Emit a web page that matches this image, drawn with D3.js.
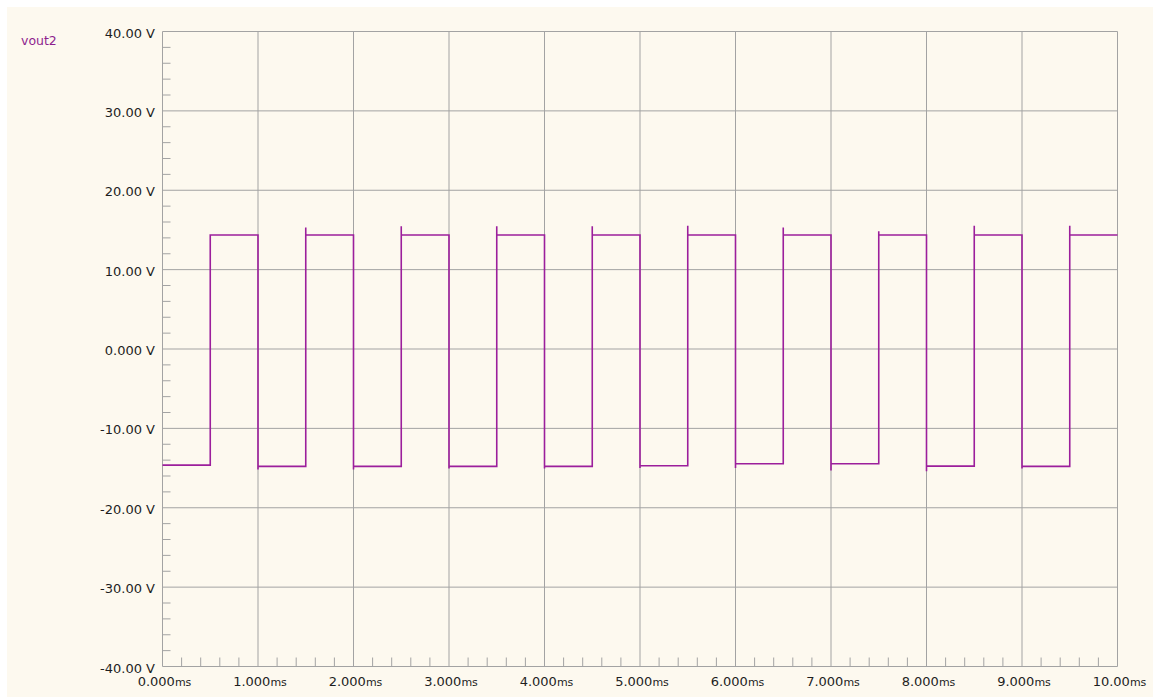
<!DOCTYPE html>
<html>
<head>
<meta charset="utf-8">
<script src="https://cdn.jsdelivr.net/npm/d3@7"></script>
<style>
  html, body { margin: 0; padding: 0; background: #ffffff; }
  svg { display: block; }
</style>
</head>
<body>
<div id="chart"></div>
<script>
// vout2 square wave (ms, V)
const edgeTimes = [0.5, 1.0, 1.5, 2.0, 2.5, 3.0, 3.5, 4.0, 4.5, 5.0,
                   5.5, 6.0, 6.5, 7.0, 7.5, 8.0, 8.5, 9.0, 9.5];
// level of each segment between edges (20 segments, 0..10 ms)
const levels = [-14.63, 14.37, -14.79, 14.37, -14.79, 14.37, -14.79, 14.37, -14.79, 14.37,
                -14.70, 14.37, -14.45, 14.37, -14.45, 14.37, -14.75, 14.37, -14.79, 14.37];
// overshoot peak at each edge (null = none)
const spikes = [null, -15.17, 15.30, -15.17, 15.47, -15.04, 15.47, -15.04, 15.47, -15.00,
                15.53, -15.00, 15.30, -15.30, 14.84, -15.40, 15.53, -15.05, 15.53];
const yTicks = [40, 30, 20, 10, 0, -10, -20, -30, -40];
const yTickLabels = ["40.00 V", "30.00 V", "20.00 V", "10.00 V", "0.000 V",
                     "-10.00 V", "-20.00 V", "-30.00 V", "-40.00 V"];
const xTicks = [0, 1, 2, 3, 4, 5, 6, 7, 8, 9, 10];
const xTickLabels = ["0.000", "1.000", "2.000", "3.000", "4.000", "5.000",
                     "6.000", "7.000", "8.000", "9.000", "10.00"];
const seriesName = "vout2";

const width = 1153, height = 697;
const plotL = 162.5, plotR = 1117.5, plotT = 31.5, plotB = 666.5;

const svg = d3.select("#chart").append("svg")
  .attr("width", width).attr("height", height)
  .style("font-family", "'DejaVu Sans', sans-serif");

svg.append("rect")
  .attr("x", 7).attr("y", 7).attr("width", width - 7).attr("height", height - 7)
  .attr("fill", "#fdf9ef");

const x = d3.scaleLinear().domain([0, 10]).range([plotL, plotR]);
const y = d3.scaleLinear().domain([-40, 40]).range([plotB, plotT]);

const grid = "#a3a3a3";

// gridlines
svg.append("g").selectAll("line").data(xTicks).join("line")
  .attr("x1", d => x(d)).attr("x2", d => x(d))
  .attr("y1", plotT).attr("y2", plotB)
  .attr("stroke", grid).attr("stroke-width", 1);
svg.append("g").selectAll("line").data(yTicks).join("line")
  .attr("x1", plotL).attr("x2", plotR)
  .attr("y1", d => y(d)).attr("y2", d => y(d))
  .attr("stroke", grid).attr("stroke-width", 1);

// minor ticks
const yMinor = d3.range(-40, 40.01, 2).filter(v => v % 10 !== 0);
svg.append("g").selectAll("line").data(yMinor).join("line")
  .attr("x1", plotL).attr("x2", plotL + 8)
  .attr("y1", d => y(d)).attr("y2", d => y(d))
  .attr("stroke", grid);
const xMinor = d3.range(0, 10.001, 0.2).filter(v => Math.abs(v - Math.round(v)) > 1e-6);
svg.append("g").selectAll("line").data(xMinor).join("line")
  .attr("x1", d => x(d)).attr("x2", d => x(d))
  .attr("y1", plotB).attr("y2", plotB - 9)
  .attr("stroke", grid);

// tick labels
svg.append("g").selectAll("text").data(yTicks).join("text")
  .attr("x", 155).attr("y", d => y(d) + 6)
  .attr("text-anchor", "end")
  .attr("font-size", 13).attr("fill", "#1e1e1e")
  .text((d, i) => yTickLabels[i]);

const xl = svg.append("g").selectAll("text").data(xTicks).join("text")
  .attr("x", d => x(d) + 2).attr("y", 686)
  .attr("text-anchor", "middle")
  .attr("font-size", 13).attr("fill", "#1e1e1e");
xl.append("tspan").text((d, i) => xTickLabels[i]);
xl.append("tspan").attr("font-size", 11).text("ms");

// series label
svg.append("text")
  .attr("x", 21).attr("y", 45)
  .attr("font-size", 12.5).attr("fill", "#8e1e8e")
  .text(seriesName);

// build waveform points from edges
const pts = [[0, levels[0]]];
edgeTimes.forEach((t, i) => {
  pts.push([t, levels[i]]);
  if (spikes[i] !== null) pts.push([t, spikes[i]]);
  pts.push([t, levels[i + 1]]);
});
pts.push([10, levels[levels.length - 1]]);

svg.append("path")
  .datum(pts)
  .attr("fill", "none")
  .attr("stroke", "#9c1f9c")
  .attr("stroke-width", 1.6)
  .attr("d", d3.line().x(d => x(d[0])).y(d => y(d[1])));
</script>
</body>
</html>
